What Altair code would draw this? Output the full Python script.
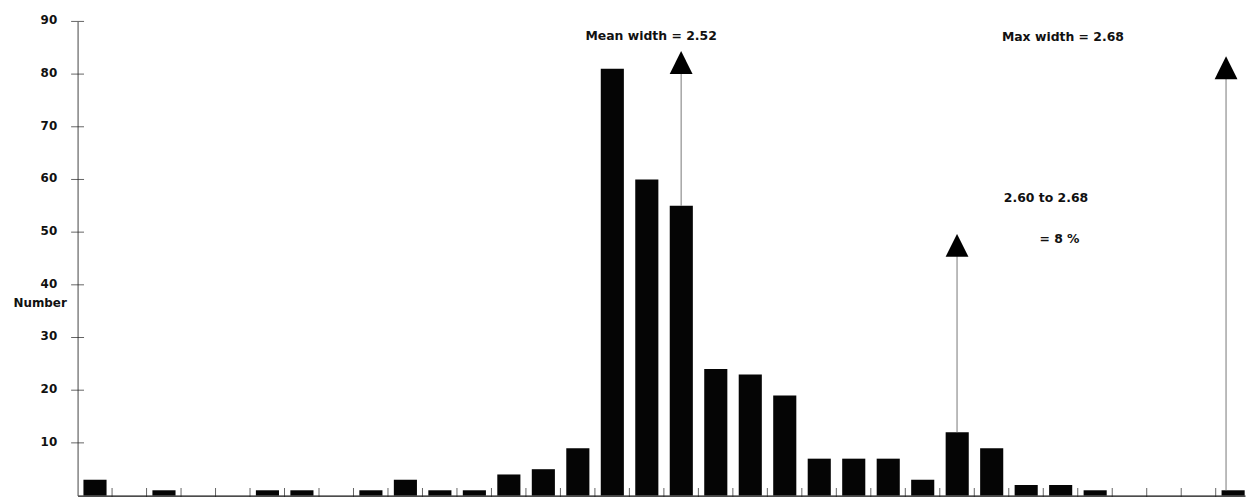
import altair as alt
import pandas as pd

# Histogram counts per bin (34 bins)
counts = [3, 0, 1, 0, 0, 1, 1, 0, 1, 3, 1, 1, 4, 5, 9, 81, 60, 55, 24, 23,
          19, 7, 7, 7, 3, 12, 9, 2, 2, 1, 0, 0, 0, 1]
bins = list(range(len(counts)))
bin_bounds = list(range(1, len(counts)))
y_tick_values = [10, 20, 30, 40, 50, 60, 70, 80, 90]

# Arrow annotations
arrow_x = [17.5, 25.5, 33.3]
arrow_from = [55, 12, 1]
arrow_tip = [82.2, 47.5, 81.2]

# Text annotations
ann_text = ["Mean width = 2.52", "Max width = 2.68", "2.60 to 2.68", "= 8 %"]
ann_x = [16.63, 28.57, 28.08, 28.47]
ann_y = [87.2, 87.0, 56.4, 48.7]

FONT = "DejaVu Sans"
X_DOMAIN = [0, 33.85]
Y_DOMAIN = [0, 90]

bar_df = pd.DataFrame({"bin": bins, "count": counts})
bound_df = pd.DataFrame({"b": bin_bounds})
ytick_df = pd.DataFrame({"v": y_tick_values})
arrow_df = pd.DataFrame({"x": arrow_x, "y0": arrow_from, "y1": arrow_tip})
ann_df = pd.DataFrame({"t": ann_text, "x": ann_x, "y": ann_y})

xscale = alt.Scale(domain=X_DOMAIN, nice=False, zero=False)
yscale = alt.Scale(domain=Y_DOMAIN, nice=False)

x_axis = alt.Axis(labels=False, ticks=False, grid=False, title=None,
                  domainColor="#111111", domainWidth=1.2)
y_axis = alt.Axis(values=y_tick_values, ticks=False, tickSize=0, grid=False,
                  labelPadding=21, labelFont=FONT, labelFontSize=12,
                  labelFontWeight="bold", labelColor="#111111",
                  labelOffset=-1.5,
                  domainColor="#444444", domainWidth=1,
                  title="Number", titleAngle=0, titleX=-65, titleY=283,
                  titleAlign="left", titleBaseline="middle",
                  titleFont=FONT, titleFontSize=12, titleFontWeight="bold",
                  titleColor="#111111")

bars = alt.Chart(bar_df).transform_calculate(
    x0="datum.bin + 0.17", x1="datum.bin + 0.84"
).mark_bar(color="#050505").encode(
    x=alt.X("x0:Q", scale=xscale, axis=x_axis),
    x2="x1:Q",
    y=alt.Y("count:Q", scale=yscale, axis=y_axis),
    y2=alt.datum(0),
)

xticks = alt.Chart(bound_df).mark_tick(
    orient="vertical", size=9, thickness=1, color="#222222", yOffset=-3
).encode(
    x=alt.X("b:Q", scale=xscale),
    y=alt.datum(0, scale=yscale),
)

yticks = alt.Chart(ytick_df).mark_tick(
    orient="horizontal", size=13, thickness=1, color="#222222"
).encode(
    x=alt.datum(0, scale=xscale),
    y=alt.Y("v:Q", scale=yscale),
)

rules = alt.Chart(arrow_df).mark_rule(color="#777777", strokeWidth=1).encode(
    x=alt.X("x:Q", scale=xscale),
    y=alt.Y("y0:Q", scale=yscale),
    y2="y1:Q",
)

heads = alt.Chart(arrow_df).mark_point(
    shape="M0,-1L1,1L-1,1Z", size=529, filled=True, color="#000000", opacity=1
).encode(
    x=alt.X("x:Q", scale=xscale),
    y=alt.Y("y1:Q", scale=yscale),
)

texts = alt.Chart(ann_df).mark_text(
    font=FONT, fontSize=12.5, fontWeight="bold", color="#111111",
    align="center", baseline="middle"
).encode(
    x=alt.X("x:Q", scale=xscale),
    y=alt.Y("y:Q", scale=yscale),
    text="t:N",
)

chart = alt.layer(bars, xticks, yticks, rules, heads, texts).properties(
    width=1174.5,
    height=477,
    autosize=alt.AutoSizeParams(type="none"),
    padding={"left": 70, "top": 12, "right": 2, "bottom": 5},
    background="white",
).configure_view(stroke=None)

chart.save("out.html", embed_options={"renderer": "svg", "actions": False})
